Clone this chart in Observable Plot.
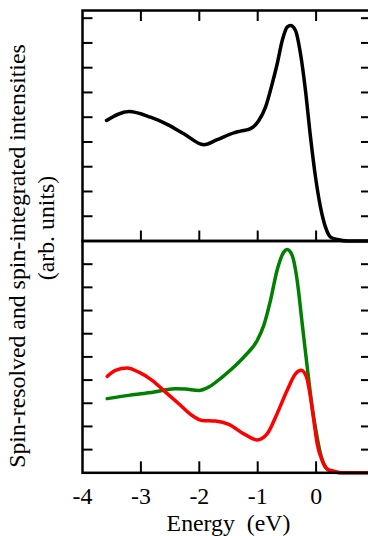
<!DOCTYPE html>
<html><head><meta charset="utf-8">
<script src="https://cdn.jsdelivr.net/npm/d3@7"></script>
<script src="https://cdn.jsdelivr.net/npm/@observablehq/plot@0.6"></script>
<style>
html,body{margin:0;padding:0;background:#fff;overflow:hidden;}
#wrap{position:relative;width:368px;height:536px;overflow:hidden;font-family:"Liberation Serif","Times New Roman",serif;color:#000;}
#top,#bottom{position:absolute;left:0;}
#top{top:0px;}
#bottom{top:230px;}
.ylab{position:absolute;white-space:pre;font-size:23.8px;line-height:1;transform:translate(-50%,-50%) rotate(-90deg);}
</style>
</head><body>
<div id="wrap">
  <div id="top"></div>
  <div id="bottom"></div>
  <div class="ylab" id="yl1" style="left:18px;top:256px;">Spin-resolved and spin-integrated intensities</div>
  <div class="ylab" id="yl2" style="left:47px;top:228px;">(arb. units)</div>
</div>
<script>
// Energy (eV) and intensity values
const totalE = [-3.589,-3.207,-2.836,-2.550,-2.265,-1.923,-1.693,-1.409,-1.295,-1.123,-0.981,-0.866,-0.752,-0.666,-0.580,-0.495,-0.438,-0.353,-0.267,-0.182,-0.096,-0.010,0.075,0.161,0.247,0.361,0.55,1.0];
const totalI = [4.87,5.23,5.00,4.71,4.33,3.89,4.09,4.37,4.44,4.54,4.87,5.41,6.35,7.16,8.10,8.64,8.70,8.50,7.56,6.08,4.20,2.58,1.37,0.56,0.16,0.06,0.0,0.0];

const greenE = [-3.577,-3.207,-2.865,-2.635,-2.408,-2.236,-2.009,-1.838,-1.608,-1.380,-1.209,-1.009,-0.896,-0.781,-0.668,-0.553,-0.495,-0.410,-0.324,-0.238,-0.152,-0.067,0.007,0.075,0.161,0.247,0.40,1.0];
const greenI = [3.20,3.34,3.45,3.55,3.63,3.61,3.55,3.70,4.13,4.63,5.07,5.71,6.36,7.44,8.74,9.52,9.63,9.38,8.30,6.43,4.56,2.83,1.68,0.82,0.24,0.07,0.0,0.0];

const redE = [-3.577,-3.435,-3.235,-3.036,-2.807,-2.579,-2.351,-2.122,-1.955,-1.723,-1.495,-1.238,-1.010,-0.839,-0.668,-0.497,-0.353,-0.255,-0.164,-0.096,-0.039,0.019,0.104,0.190,0.303,0.45,1.0];
const redI = [4.16,4.42,4.52,4.34,3.99,3.48,2.98,2.47,2.26,2.23,2.09,1.68,1.42,1.68,2.55,3.55,4.27,4.42,4.13,3.26,2.26,1.25,0.53,0.17,0.07,0.0,0.0];

const xTicks = [-3,-2,-1,0];
const xTickLabels = [-4,-3,-2,-1,0];
const yTicks = [1,2,3,4,5,6,7,8,9];
const xDomain = [-4,1];
const topYDomain = [0,9.31];
const bottomYDomain = [0,10];

const toRows = (E, I, s) => E.map((e,i)=>({e, v:I[i], s}));
const totalRows = toRows(totalE,totalI,"total");
const greenRows = toRows(greenE,greenI,"up");
const redRows = toRows(redE,redI,"down");

const font = '"Liberation Serif","Times New Roman",serif';
const baseStyle = {fontFamily: font, fontSize: "23.8px", background: "transparent", maxWidth: "none", overflow: "visible", color: "black"};
const blank = () => "";

const topPlot = Plot.plot({
  width: 376, height: 242,
  marginLeft: 82, marginRight: 2, marginTop: 10, marginBottom: 1.5,
  x: {domain: xDomain},
  y: {domain: topYDomain},
  style: baseStyle,
  marks: [
    Plot.line(totalRows, {x: "e", y: "v", stroke: "black", strokeWidth: 3.5, curve: "monotone-x"}),
    Plot.axisY({ticks: yTicks, anchor: "left", tickSize: -10.5, tickFormat: blank, strokeWidth: 2, label: null}),
    Plot.axisY({ticks: yTicks, anchor: "right", tickSize: -14, tickFormat: blank, strokeWidth: 2, label: null}),
    Plot.axisX({ticks: xTicks, anchor: "top", tickSize: -10, tickFormat: blank, strokeWidth: 2, label: null}),
    Plot.axisX({ticks: xTicks, anchor: "bottom", tickSize: -10, tickFormat: blank, strokeWidth: 2, label: null}),
    Plot.frame({stroke: "black", strokeWidth: 2.5})
  ]
});
document.getElementById("top").appendChild(topPlot);

const bottomPlot = Plot.plot({
  width: 376, height: 306,
  marginLeft: 82, marginRight: 2, marginTop: 10.5, marginBottom: 63.7,
  x: {domain: xDomain},
  y: {domain: bottomYDomain},
  style: baseStyle,
  marks: [
    Plot.line(greenRows, {x: "e", y: "v", stroke: "#008000", strokeWidth: 3.5, curve: "monotone-x"}),
    Plot.line(redRows, {x: "e", y: "v", stroke: "#ff0000", strokeWidth: 3.5, curve: "monotone-x"}),
    Plot.axisY({ticks: yTicks, anchor: "left", tickSize: -10.5, tickFormat: blank, strokeWidth: 2, label: null}),
    Plot.axisY({ticks: yTicks, anchor: "right", tickSize: -14, tickFormat: blank, strokeWidth: 2, label: null}),
    Plot.axisX({ticks: xTicks, anchor: "bottom", tickSize: -11, tickFormat: blank, strokeWidth: 2, label: null}),
    Plot.axisX({ticks: xTickLabels, anchor: "bottom", tickSize: 0, tickPadding: 14, tickFormat: d => String(d), fontSize: 23.8,
      label: "Energy\u00a0\u00a0(eV)", labelAnchor: "center", labelArrow: "none", labelOffset: 58}),
    Plot.frame({stroke: "black", strokeWidth: 2.5})
  ]
});
document.getElementById("bottom").appendChild(bottomPlot);
</script>
</body></html>
